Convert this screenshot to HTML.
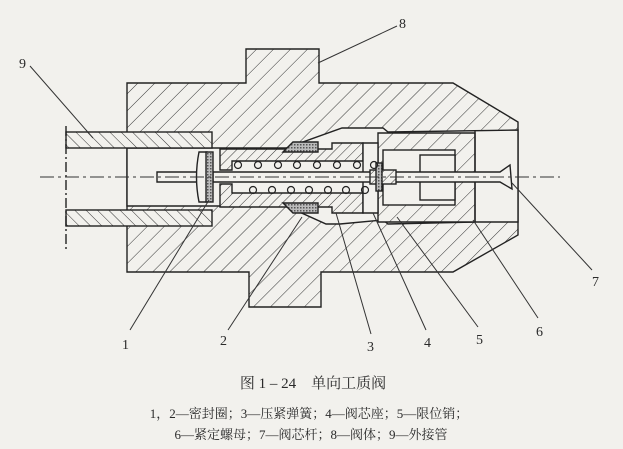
<!DOCTYPE html>
<html><head><meta charset="utf-8"><style>
html,body{margin:0;padding:0;background:#f2f1ed;}
svg{display:block}
text{font-family:"Liberation Serif","Noto Serif CJK SC",serif;fill:#2a2a2a}
</style></head><body>
<svg width="623" height="449" viewBox="0 0 623 449" xmlns="http://www.w3.org/2000/svg">
<defs>
<pattern id="h" patternUnits="userSpaceOnUse" width="12" height="12" patternTransform="rotate(45)">
<rect width="12" height="12" fill="#f2f1ed"/><line x1="0" y1="0" x2="0" y2="12" stroke="#333" stroke-width="1"/></pattern>
<pattern id="h2" patternUnits="userSpaceOnUse" width="7" height="7" patternTransform="rotate(45)">
<rect width="7" height="7" fill="#f2f1ed"/><line x1="0" y1="0" x2="0" y2="7" stroke="#333" stroke-width="1"/></pattern>
<pattern id="hb" patternUnits="userSpaceOnUse" width="8" height="8" patternTransform="rotate(-45)">
<rect width="8" height="8" fill="#f2f1ed"/><line x1="0" y1="0" x2="0" y2="8" stroke="#333" stroke-width="1"/></pattern>
<pattern id="x" patternUnits="userSpaceOnUse" width="3" height="3">
<rect width="3" height="3" fill="#bbb"/><rect width="1.5" height="1.5" fill="#555"/></pattern>
</defs>
<g stroke="#222" stroke-width="1.4">
<path d="M127,83 L246,83 L246,49 L319,49 L319,83 L453,83 L518,122 L518,235 L453,272 L321,272 L321,307 L249,307 L249,272 L127,272 Z" fill="url(#h)"/>
<path d="M127,148 L286,148 L342,128 L383,128 L388,132 L518,130 L518,222 L475,222 L388,224 L383,220 L340,224 L326,224 L286,206 L127,206 Z" fill="#f2f1ed"/>
<path d="M378,133 L475,133 L475,222 L378,222 Z" fill="url(#h)"/>
<rect x="383" y="150" width="72" height="55" fill="#f2f1ed"/>
<rect x="420" y="155" width="35" height="45" fill="#f2f1ed"/>
<line x1="475" y1="130" x2="475" y2="222"/>
<rect x="66" y="132" width="146" height="16" fill="url(#hb)"/>
<rect x="66" y="210" width="146" height="16" fill="url(#hb)"/>
<line x1="66" y1="126" x2="66" y2="250" stroke-dasharray="10,3,2,3"/>
<path d="M220,149 L332,149 L332,143 L363,143 L363,161 L232,161 L232,170 L220,170 Z" fill="url(#h2)"/>
<path d="M220,184 L232,184 L232,193 L363,193 L363,213 L332,213 L332,207 L220,207 Z" fill="url(#h2)"/>
<path d="M363,143 L378,143 L378,213 L363,213 Z" fill="#f2f1ed"/>
<path d="M283,152 L293,142 L318,142 L318,152 Z" fill="url(#x)"/>
<path d="M283,203 L318,203 L318,213 L293,213 Z" fill="url(#x)"/>
<path d="M157,172 L199,172 L199,182 L157,182 Z" fill="#f2f1ed"/>
<path d="M213,172 L500,172 L510,165 L512,189 L500,182 L213,182 Z" fill="#f2f1ed"/>
<path d="M207,152 L199,152 Q194,177 199,202 L207,202 Z" fill="#f2f1ed"/>
<rect x="206" y="152" width="7" height="50" fill="url(#x)"/>
<rect x="370" y="170" width="26" height="14" fill="url(#h2)"/>
<rect x="376" y="163" width="6" height="28" fill="url(#x)"/>
</g>
<g fill="none" stroke="#222" stroke-width="1.2">
<circle cx="238" cy="165" r="3.5"/><circle cx="258" cy="165" r="3.5"/><circle cx="278" cy="165" r="3.5"/><circle cx="297" cy="165" r="3.5"/><circle cx="317" cy="165" r="3.5"/><circle cx="337" cy="165" r="3.5"/><circle cx="357" cy="165" r="3.5"/><circle cx="374" cy="165" r="3.5"/>
<circle cx="253" cy="190" r="3.5"/><circle cx="272" cy="190" r="3.5"/><circle cx="291" cy="190" r="3.5"/><circle cx="309" cy="190" r="3.5"/><circle cx="328" cy="190" r="3.5"/><circle cx="346" cy="190" r="3.5"/><circle cx="365" cy="190" r="3.5"/>
</g>
<line x1="40" y1="177" x2="560" y2="177" stroke="#333" stroke-width="1" stroke-dasharray="14,4,3,4"/>
<g stroke="#333" stroke-width="1">
<line x1="30" y1="66" x2="93" y2="138"/>
<line x1="397" y1="26" x2="318" y2="63"/>
<line x1="209" y1="200" x2="130" y2="330"/>
<line x1="302" y1="217" x2="228" y2="330"/>
<line x1="336" y1="213" x2="371" y2="334"/>
<line x1="373" y1="213" x2="426" y2="330"/>
<line x1="397" y1="217" x2="478" y2="327"/>
<line x1="473" y1="220" x2="538" y2="318"/>
<line x1="512" y1="183" x2="592" y2="270"/>
</g>
<g font-size="14">
<text x="19" y="68">9</text><text x="399" y="28">8</text>
<text x="122" y="349">1</text><text x="220" y="345">2</text><text x="367" y="351">3</text>
<text x="424" y="347">4</text><text x="476" y="344">5</text><text x="536" y="336">6</text><text x="592" y="286">7</text>
</g>
<text x="313" y="388" font-size="15" text-anchor="middle">图 1 – 24　单向工质阀</text>
<text x="309" y="418" font-size="13" text-anchor="middle">1，2—密封圈；3—压紧弹簧；4—阀芯座；5—限位销；</text>
<text x="311" y="439" font-size="13" text-anchor="middle">6—紧定螺母；7—阀芯杆；8—阀体；9—外接管</text>
</svg>
</body></html>
